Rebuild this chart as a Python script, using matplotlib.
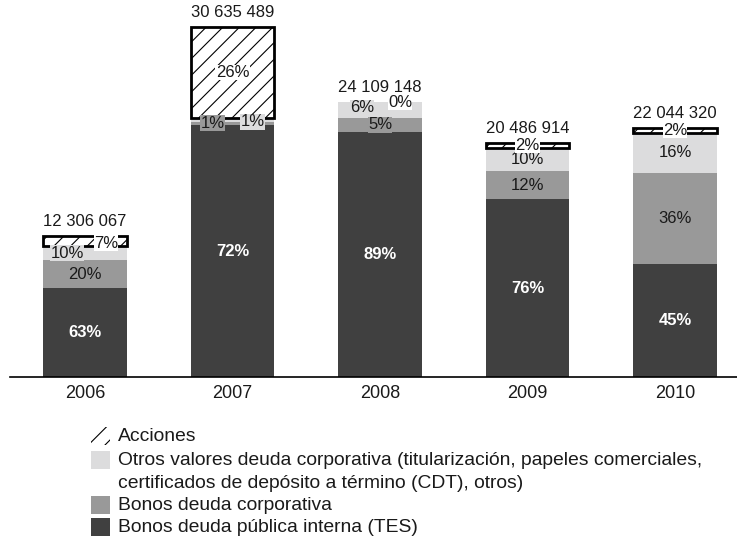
import numpy as np
import matplotlib.pyplot as plt
from matplotlib.patches import Rectangle

plt.rcParams["font.family"] = ["Liberation Sans", "DejaVu Sans"]
plt.rcParams["hatch.linewidth"] = 0.8

years = ["2006", "2007", "2008", "2009", "2010"]
totals = [12306067, 30635489, 24109148, 20486914, 22044320]
total_labels = ["12 306 067", "30 635 489", "24 109 148", "20 486 914", "22 044 320"]

# percentage shares per category (bottom -> top)
tes = [63, 72, 89, 76, 45]
bonos_corp = [20, 1, 5, 12, 36]
otros = [10, 1, 6, 10, 16]
acciones = [7, 26, 0, 2, 2]

names = [
    "Bonos deuda pública interna (TES)",
    "Bonos deuda corporativa",
    "Otros valores deuda corporativa (titularización, papeles comerciales,\ncertificados de depósito a término (CDT), otros)",
    "Acciones",
]
colors = ["#404040", "#999999", "#dcdcdd", "white"]

# label nudges in pixels (x, y) for crowded small segments
nudges = {
    (0, 2): (-18, 0), (0, 3): (21, -2),
    (1, 1): (-20, 0), (1, 2): (20, -2),
    (2, 2): (-18, 2), (2, 3): (20, -1),
}

fig = plt.figure(figsize=(7.37, 5.4), dpi=100)
ax = fig.add_axes([10 / 737, 1 - 377 / 540, 1 - 10 / 737, 377 / 540])

x = np.arange(len(years))
tot_m = np.array(totals) / 1e6
series = [tes, bonos_corp, otros, acciones]
bottom = np.zeros(len(years))
w = 0.565
for k, (pct, c) in enumerate(zip(series, colors)):
    h = tot_m * np.array(pct) / 100
    if k == 3:
        lw = [2 if v > 0 else 0 for v in h]
        ax.bar(x, h, w, bottom=bottom, color=c, edgecolor="black",
               linewidth=lw, hatch="//", zorder=2)
    else:
        ax.bar(x, h, w, bottom=bottom, color=c, linewidth=0, zorder=2)
    for i in range(len(years)):
        dx, dy = nudges.get((i, k), (0, 0))
        if k == 0:
            kw = dict(color="white", fontweight="bold")
        else:
            kw = dict(color="#1a1a1a",
                      bbox=dict(facecolor=c, edgecolor="none", pad=0.3))
        ax.annotate(f"{pct[i]}%", (x[i], bottom[i] + h[i] / 2),
                    xytext=(dx * 0.72, dy * 0.72), textcoords="offset points",
                    ha="center", va="center", fontsize=12, zorder=5, **kw)
    bottom += h

for i in range(len(years)):
    ax.annotate(total_labels[i], (x[i], bottom[i]), xytext=(0, 5),
                textcoords="offset points", ha="center", va="bottom",
                fontsize=12, color="#1a1a1a")

ax.set_xlim(-0.508, 4.42)
ax.set_ylim(0, 33.0)
ax.set_xticks(x)
ax.set_xticklabels(years, fontsize=13, color="#1a1a1a")
ax.tick_params(axis="x", length=0, pad=6)
ax.set_yticks([])
for s in ["top", "right", "left"]:
    ax.spines[s].set_visible(False)
ax.spines["bottom"].set_linewidth(1.2)

# legend, drawn by hand so the two-line entry keeps its box on the first line
W, H = 737, 540
row_y = [436, 460, 505, 527]  # centre of first text line, px from top
for lab, c, y in zip(names[::-1], colors[::-1], row_y):
    hatched = c == "white"
    fig.add_artist(Rectangle((91 / W, 1 - (y + 9) / H), 19 / W, 18 / H,
                             transform=fig.transFigure, facecolor=c,
                             edgecolor="black" if hatched else "none",
                             linewidth=0, hatch="//" if hatched else None))
    for j, line in enumerate(lab.split("\n")):
        fig.text(118 / W, 1 - (y + 5 + 23 * j) / H, line, fontsize=13.9,
                 color="#1a1a1a", va="baseline", ha="left")

fig.savefig("out.png", dpi=100)
